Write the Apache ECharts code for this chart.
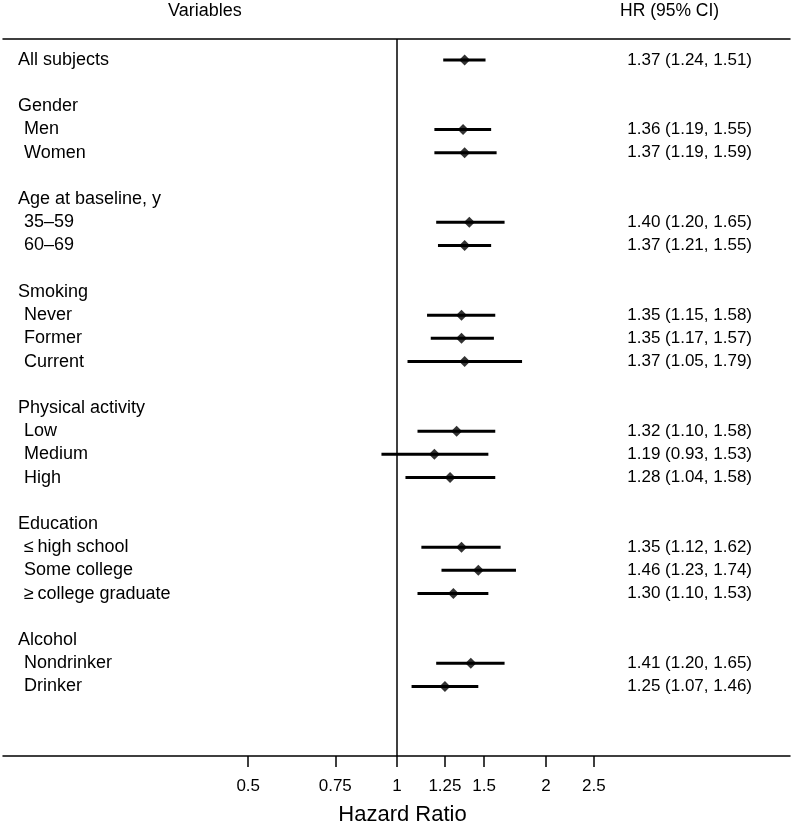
<!DOCTYPE html>
<html>
<head>
<meta charset="utf-8">
<script src="https://cdn.jsdelivr.net/npm/echarts@6/dist/echarts.min.js"></script>
<style>html,body{margin:0;padding:0;background:#fff}#c{width:794px;height:825px}</style>
</head>
<body>
<div id="c"></div>
<script>
// Rows from top to bottom; a leading space marks an indented sub-item
const variables = [
  'All subjects', '',
  'Gender', ' Men', ' Women', '',
  'Age at baseline, y', ' 35–59', ' 60–69', '',
  'Smoking', ' Never', ' Former', ' Current', '',
  'Physical activity', ' Low', ' Medium', ' High', '',
  'Education', ' ≤\u2009high school', ' Some college', ' ≥\u2009college graduate', '',
  'Alcohol', ' Nondrinker', ' Drinker'
];
const hr = [1.37, null, null, 1.36, 1.37, null, null, 1.40, 1.37, null, null, 1.35, 1.35, 1.37, null,
  null, 1.32, 1.19, 1.28, null, null, 1.35, 1.46, 1.30, null, null, 1.41, 1.25];
const ciLow = [1.24, null, null, 1.19, 1.19, null, null, 1.20, 1.21, null, null, 1.15, 1.17, 1.05, null,
  null, 1.10, 0.93, 1.04, null, null, 1.12, 1.23, 1.10, null, null, 1.20, 1.07];
const ciHigh = [1.51, null, null, 1.55, 1.59, null, null, 1.65, 1.55, null, null, 1.58, 1.57, 1.79, null,
  null, 1.58, 1.53, 1.58, null, null, 1.62, 1.74, 1.53, null, null, 1.65, 1.46];
const xTicks = [0.5, 0.75, 1, 1.25, 1.5, 2, 2.5];

const FONT = 'Liberation Sans';
const rows = variables.map((_, i) => i);
const ciData = [], pointData = [];
rows.forEach(i => {
  if (hr[i] != null) {
    ciData.push([Math.log(ciLow[i]), Math.log(ciHigh[i]), i]);
    pointData.push([Math.log(hr[i]), i]);
  }
});
const fmt2 = v => v.toFixed(2);
const tickLn = xTicks.map(v => Math.log(v));

const chart = echarts.init(document.getElementById('c'), null, {renderer: 'canvas'});
const yBase = {
  type: 'value', min: -0.9, max: 30, inverse: true,
  axisLine: {show: false}, axisTick: {show: false}, splitLine: {show: false}
};
chart.setOption({
  animation: false,
  backgroundColor: '#fff',
  textStyle: {fontFamily: FONT, color: '#000'},
  grid: {left: 3, right: 4, top: 39, bottom: 69, containLabel: false, outerBoundsMode: 'none'},
  graphic: [
    {type: 'text', left: 168, top: 2, style: {text: 'Variables', font: '18px "Liberation Sans"', fill: '#000'}},
    {type: 'text', left: 620, top: 2, style: {text: 'HR (95% CI)', font: '17.5px "Liberation Sans"', fill: '#000'}}
  ],
  xAxis: [
    {
      type: 'value', position: 'bottom', min: -1.835, max: 1.83,
      axisLine: {show: true, onZero: false, lineStyle: {color: '#000', width: 1.5}},
      axisTick: {show: true, customValues: tickLn, length: 11, lineStyle: {color: '#000', width: 1.5}},
      axisLabel: {
        customValues: tickLn, margin: 22, fontSize: 17, color: '#000', fontFamily: FONT,
        formatter: v => {
          let best = xTicks[0];
          xTicks.forEach(t => { if (Math.abs(Math.log(t) - v) < Math.abs(Math.log(best) - v)) best = t; });
          return String(best);
        }
      },
      splitLine: {show: false},
      name: 'Hazard Ratio', nameLocation: 'middle', nameGap: 48,
      nameTextStyle: {fontSize: 22, color: '#000', fontFamily: FONT, padding: [0, 0, 0, 12]}
    },
    {
      type: 'value', position: 'top', min: -1.835, max: 1.83,
      axisLine: {show: true, onZero: false, lineStyle: {color: '#000', width: 1.5}},
      axisTick: {show: false}, axisLabel: {show: false}, splitLine: {show: false}
    }
  ],
  yAxis: [
    Object.assign({}, yBase, {
      position: 'left',
      axisLabel: {
        inside: true, margin: 15, fontSize: 18, color: '#000', fontFamily: FONT,
        customValues: rows,
        formatter: v => {
          const s = variables[Math.round(v)] || '';
          if (!s) return '';
          return s.charAt(0) === ' ' ? '{sub|' + s.slice(1) + '}' : s;
        },
        rich: {sub: {padding: [0, 0, 0, 6], fontSize: 18, color: '#000', fontFamily: FONT}}
      }
    }),
    Object.assign({}, yBase, {
      position: 'right',
      axisLabel: {
        inside: true, margin: 38, fontSize: 17, color: '#000', fontFamily: FONT,
        customValues: rows,
        formatter: v => {
          const i = Math.round(v);
          if (hr[i] == null) return '';
          return fmt2(hr[i]) + ' (' + fmt2(ciLow[i]) + ', ' + fmt2(ciHigh[i]) + ')';
        }
      }
    })
  ],
  series: [
    {
      type: 'custom', xAxisIndex: 0, yAxisIndex: 0,
      encode: {x: [0, 1], y: 2},
      data: ciData,
      renderItem: (params, api) => {
        const p1 = api.coord([api.value(0), api.value(2)]);
        const p2 = api.coord([api.value(1), api.value(2)]);
        return {type: 'line', shape: {x1: p1[0], y1: p1[1], x2: p2[0], y2: p2[1]},
          style: {stroke: '#000', lineWidth: 3}};
      },
      z: 3
    },
    {
      type: 'scatter', xAxisIndex: 0, yAxisIndex: 0,
      data: pointData, symbol: 'diamond', symbolSize: [11, 11],
      itemStyle: {color: '#000'}, z: 4,
      markLine: {
        silent: true, symbol: 'none', label: {show: false},
        lineStyle: {color: '#000', width: 1.5, type: 'solid'},
        data: [{xAxis: Math.log(1)}]
      }
    }
  ]
});
</script>
</body>
</html>
